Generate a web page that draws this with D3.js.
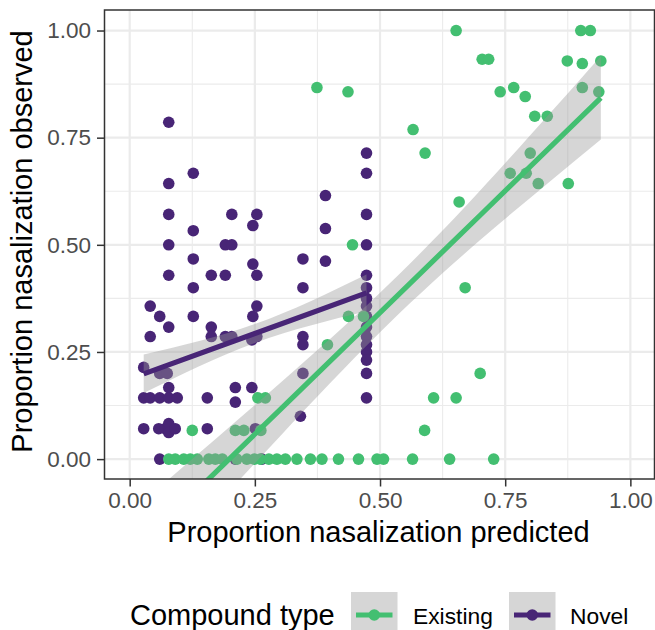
<!DOCTYPE html>
<html>
<head>
<meta charset="utf-8">
<script src="https://cdn.jsdelivr.net/npm/d3@7"></script>
<style>
  html, body { margin: 0; padding: 0; background: #fff; }
  svg { display: block; font-family: "Liberation Sans", Arial, sans-serif; }
</style>
</head>
<body>
<svg id="chart" width="655" height="630"></svg>
<script>
// ---------------- data ----------------
const groups = ["Existing", "Novel"];
const groupColors = ["#43BF71", "#482576"];

const novelX = [0.078,0.078,0.078,0.078,0.078,0.127,0.127,0.127,0.127,0.127,
  0.041,0.060,0.078,0.041,0.163,0.191,0.204,0.191,0.204,0.254,
  0.246,0.246,0.254,0.254,0.246,0.163,0.163,0.191,0.204,0.244,
  0.254,0.346,0.346,0.346,0.346,0.346,0.341,0.391,0.391,0.391,
  0.473,0.473,0.473,0.473,0.473,0.473,0.473,0.473,0.473,0.473,
  0.473,0.473,0.473,0.473,0.473,0.473,
  0.028,0.060,0.075,0.078,0.028,0.041,0.060,0.078,0.095,0.155,
  0.211,0.211,0.244,0.028,0.058,0.071,0.078,0.078,0.091,0.155,
  0.251,0.060,0.211,0.264];
const novelY = [0.786,0.643,0.571,0.500,0.429,0.667,0.533,0.467,0.400,0.333,
  0.357,0.333,0.308,0.286,0.429,0.429,0.571,0.500,0.500,0.571,
  0.545,0.455,0.429,0.357,0.333,0.308,0.286,0.286,0.286,0.278,
  0.286,0.467,0.400,0.286,0.267,0.200,0.100,0.615,0.538,0.462,
  0.714,0.667,0.571,0.500,0.429,0.400,0.375,0.357,0.333,0.308,
  0.286,0.267,0.250,0.231,0.200,0.143,
  0.214,0.200,0.200,0.167,0.143,0.143,0.143,0.143,0.143,0.143,
  0.167,0.133,0.167,0.071,0.071,0.071,0.083,0.062,0.071,0.071,
  0.071,0.000,0.000,0.000];

const existingX = [0.374,0.436,0.445,0.652,0.704,0.717,0.901,0.920,0.874,0.904,
  0.941,0.740,0.767,0.790,0.904,0.937,0.809,0.834,0.566,0.590,
  0.800,0.760,0.792,0.816,0.876,0.658,0.670,0.700,0.607,0.652,
  0.589,0.437,0.467,0.395,0.256,0.271,0.125,0.211,0.228,0.262,
  0.078,0.091,0.108,0.121,0.135,0.158,0.171,0.185,0.214,0.234,
  0.249,0.261,0.278,0.294,0.311,0.334,0.361,0.384,0.417,0.457,
  0.494,0.507,0.565,0.639,0.727];
const existingY = [0.867,0.857,0.500,1.000,0.933,0.933,1.000,1.000,0.929,0.923,
  0.929,0.857,0.867,0.846,0.867,0.857,0.800,0.800,0.769,0.714,
  0.714,0.667,0.667,0.643,0.643,0.600,0.400,0.200,0.143,0.143,
  0.067,0.333,0.333,0.267,0.143,0.143,0.067,0.067,0.067,0.067,
  0,0,0,0,0,0,0,0,0,0,
  0,0,0,0,0,0,0,0,0,0,
  0,0,0,0,0];

// linear fits with 95% bands
const existingFitX  = [0.078, 0.300, 0.500, 0.700, 0.941];
const existingFitY  = [-0.137, 0.115, 0.342, 0.569, 0.843];
const existingFitLo = [-0.227, 0.053, 0.296, 0.511, 0.746];
const existingFitHi = [-0.047, 0.177, 0.388, 0.627, 0.940];

const novelFitX  = [0.028, 0.250, 0.473];
const novelFitY  = [0.199, 0.293, 0.388];
const novelFitLo = [0.154, 0.271, 0.345];
const novelFitHi = [0.244, 0.315, 0.431];

const tickValues = [0, 0.25, 0.5, 0.75, 1];
const tickLabels = ["0.00", "0.25", "0.50", "0.75", "1.00"];
const minorValues = [0.125, 0.375, 0.625, 0.875];

const xTitle = "Proportion nasalization predicted";
const yTitle = "Proportion nasalization observed";
const legendTitle = "Compound type";

// ---------------- layout ----------------
const svg = d3.select("#chart");
const P = { left: 104.5, right: 654.5, top: 10, bottom: 479 };

const x = d3.scaleLinear().domain([-0.0503, 1.0482]).range([P.left, P.right]);
const y = d3.scaleLinear().domain([-0.0464, 1.0479]).range([P.bottom, P.top]);

svg.append("defs").append("clipPath").attr("id", "panelClip")
  .append("rect").attr("x", P.left).attr("y", P.top)
  .attr("width", P.right - P.left).attr("height", P.bottom - P.top);

// grid
const grid = svg.append("g");
grid.selectAll(".vminor").data(minorValues).join("line")
  .attr("x1", d => x(d)).attr("x2", d => x(d)).attr("y1", P.top).attr("y2", P.bottom)
  .attr("stroke", "#EBEBEB").attr("stroke-width", 1.1);
grid.selectAll(".hminor").data(minorValues).join("line")
  .attr("y1", d => y(d)).attr("y2", d => y(d)).attr("x1", P.left).attr("x2", P.right)
  .attr("stroke", "#EBEBEB").attr("stroke-width", 1.1);
grid.selectAll(".vmajor").data(tickValues).join("line")
  .attr("x1", d => x(d)).attr("x2", d => x(d)).attr("y1", P.top).attr("y2", P.bottom)
  .attr("stroke", "#EBEBEB").attr("stroke-width", 2.2);
grid.selectAll(".hmajor").data(tickValues).join("line")
  .attr("y1", d => y(d)).attr("y2", d => y(d)).attr("x1", P.left).attr("x2", P.right)
  .attr("stroke", "#EBEBEB").attr("stroke-width", 2.2);

const plot = svg.append("g").attr("clip-path", "url(#panelClip)");
const R = 5.8;

// points
const novelPts = novelX.map((v, i) => ({ x: v, y: novelY[i] }));
const existingPts = existingX.map((v, i) => ({ x: v, y: existingY[i] }));
plot.append("g").selectAll("circle").data(novelPts).join("circle")
  .attr("cx", d => x(d.x)).attr("cy", d => y(d.y)).attr("r", R).attr("fill", groupColors[1]);
plot.append("g").selectAll("circle").data(existingPts).join("circle")
  .attr("cx", d => x(d.x)).attr("cy", d => y(d.y)).attr("r", R).attr("fill", groupColors[0]);

// smooths
function drawSmooth(fx, fy, lo, hi, color) {
  const rows = fx.map((v, i) => ({ x: v, y: fy[i], lo: lo[i], hi: hi[i] }));
  const area = d3.area().x(d => x(d.x)).y0(d => y(d.lo)).y1(d => y(d.hi)).curve(d3.curveNatural);
  plot.append("path").datum(rows).attr("d", area).attr("fill", "#999999").attr("fill-opacity", 0.4);
  const line = d3.line().x(d => x(d.x)).y(d => y(d.y));
  plot.append("path").datum(rows).attr("d", line).attr("fill", "none")
    .attr("stroke", color).attr("stroke-width", 5.2);
}
drawSmooth(novelFitX, novelFitY, novelFitLo, novelFitHi, groupColors[1]);
drawSmooth(existingFitX, existingFitY, existingFitLo, existingFitHi, groupColors[0]);

// panel border
svg.append("rect").attr("x", P.left).attr("y", P.top)
  .attr("width", P.right - P.left).attr("height", P.bottom - P.top)
  .attr("fill", "none").attr("stroke", "#333333").attr("stroke-width", 1.5);

// axes
const xAxis = d3.axisBottom(x).tickValues(tickValues).tickFormat((d, i) => tickLabels[i]).tickSize(7.5).tickPadding(6);
const gx = svg.append("g").attr("transform", `translate(0,${P.bottom})`).call(xAxis);
gx.select(".domain").remove();
gx.selectAll(".tick line").attr("stroke", "#333333").attr("stroke-width", 1.5);
gx.selectAll(".tick text").attr("fill", "#4D4D4D").style("font-size", "22.5px")
  .style("font-family", "'Liberation Sans', Arial, sans-serif");

const yAxis = d3.axisLeft(y).tickValues(tickValues).tickFormat((d, i) => tickLabels[i]).tickSize(7.5).tickPadding(6);
const gy = svg.append("g").attr("transform", `translate(${P.left},0)`).call(yAxis);
gy.select(".domain").remove();
gy.selectAll(".tick line").attr("stroke", "#333333").attr("stroke-width", 1.5);
gy.selectAll(".tick text").attr("fill", "#4D4D4D").style("font-size", "22.5px")
  .style("font-family", "'Liberation Sans', Arial, sans-serif");

// titles
svg.append("text").attr("x", (P.left + P.right) / 2 - 1).attr("y", 542)
  .attr("text-anchor", "middle").style("font-size", "29px").attr("fill", "#000").text(xTitle);
svg.append("text").attr("transform", `translate(32,${(P.top + P.bottom) / 2 - 3}) rotate(-90)`)
  .attr("text-anchor", "middle").style("font-size", "29px").attr("fill", "#000").text(yTitle);

// legend
const lg = svg.append("g");
lg.append("text").attr("x", 130).attr("y", 625).style("font-size", "29px").attr("fill", "#000").text(legendTitle);
const keyX = [351, 509];
const labX = [413, 570];
groups.forEach((g, i) => {
  lg.append("rect").attr("x", keyX[i]).attr("y", 592).attr("width", 46.5).attr("height", 46.5)
    .attr("fill", "#999999").attr("fill-opacity", 0.4);
  lg.append("line").attr("x1", keyX[i] + 5).attr("x2", keyX[i] + 41.5).attr("y1", 615).attr("y2", 615)
    .attr("stroke", groupColors[i]).attr("stroke-width", 5.2);
  lg.append("circle").attr("cx", keyX[i] + 23.25).attr("cy", 615).attr("r", R).attr("fill", groupColors[i]);
  lg.append("text").attr("x", labX[i]).attr("y", 623.5).style("font-size", "22.8px").attr("fill", "#000").text(g);
});
</script>
</body>
</html>
